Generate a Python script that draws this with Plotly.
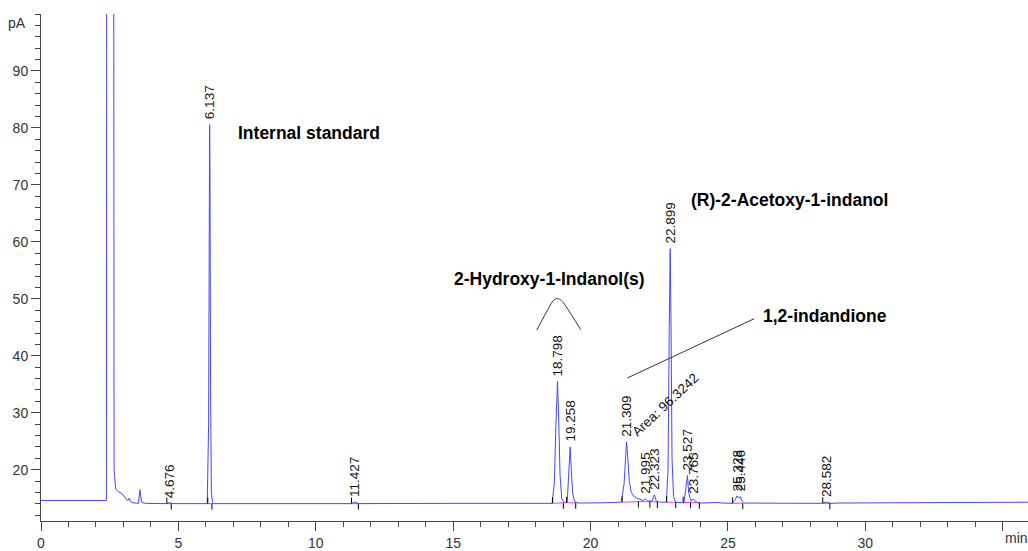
import numpy as np
import plotly.graph_objects as go

# Labelled peaks: retention time (min) and apex signal (pA)
peak_rt = [4.676, 6.137, 11.427, 18.798, 19.258, 21.309, 21.995, 22.323,
           22.899, 23.527, 23.765, 25.328, 25.446, 28.582]
peak_apex = [14.2, 80.6, 14.35, 35.5, 24.0, 24.9, 14.9, 15.6,
             58.8, 19.0, 14.8, 15.4, 15.3, 14.3]

# Remaining detector trace vertices (min, pA)
trace_time = [0.0, 2.38, 2.41, 2.62, 2.66, 2.72, 2.80, 2.95, 3.05, 3.12, 3.17, 3.21,
              3.26, 3.35, 3.55, 3.60, 3.66, 3.80, 4.55,
              4.80, 6.05, 6.10, 6.125,
              6.15, 6.17, 6.20, 6.25, 8.0, 11.30,
              11.55, 15.0, 16.0, 17.5, 18.60, 18.68, 18.74,
              18.84, 18.89, 18.95, 19.05, 19.15, 19.20,
              19.30, 19.35, 19.42, 19.55, 20.5, 21.12, 21.22, 21.27,
              21.35, 21.41, 21.48, 21.60, 21.80, 21.92,
              22.08, 22.24,
              22.40, 22.55, 22.76, 22.82, 22.865,
              22.93, 22.965, 23.02, 23.10, 23.40, 23.47,
              23.57, 23.65,
              23.85, 24.0, 24.6, 24.8, 25.15, 25.25,
              25.39,
              25.52, 25.60, 28.40,
              28.75, 29.0, 31.0, 32.5, 33.0, 35.92]
trace_pa = [14.6, 14.6, 300.0, 300.0, 20.0, 16.6, 16.2, 15.8, 15.2, 14.7, 14.6, 15.0,
            14.4, 14.2, 14.1, 16.5, 14.3, 14.1, 14.05,
            14.05, 14.05, 28.0, 70.0,
            72.0, 35.0, 16.0, 14.05, 14.05, 14.05,
            14.05, 14.1, 14.15, 14.1, 14.1, 17.5, 28.0,
            29.0, 19.0, 15.0, 14.2, 14.3, 18.0,
            20.0, 15.8, 14.4, 14.15, 14.2, 14.3, 17.5, 22.5,
            22.5, 18.0, 16.0, 15.2, 14.8, 14.6,
            14.5, 14.5,
            14.4, 14.3, 14.3, 20.0, 45.0,
            45.0, 22.0, 15.3, 14.3, 14.2, 17.0,
            16.0, 14.6,
            14.3, 14.15, 14.25, 14.15, 14.1, 14.6,
            15.0,
            14.5, 14.15, 14.1,
            14.1, 14.15, 14.2, 14.25, 14.3, 14.3]

# Integration events (min) and the baseline level (pA) where they sit
event_start = [4.58, 6.07, 11.30, 18.62, 19.13, 21.15, 22.77, 23.37, 25.17, 28.45]
event_start_pa = [14.05, 14.05, 14.05, 14.1, 14.2, 14.3, 14.3, 14.2, 14.1, 14.1]
event_end = [4.74, 6.22, 11.55, 19.01, 19.46, 21.74, 22.16, 22.43, 23.10,
             23.64, 23.96, 25.54, 28.71]
event_end_pa = [14.05, 14.05, 14.05, 14.2, 14.2, 14.4, 14.4, 14.35, 14.3,
                14.3, 14.2, 14.15, 14.1]

# Integrated baseline segments (min, pA)
baseline_from = [4.58, 6.07, 11.30, 18.62, 19.13, 21.15, 21.74, 22.16, 22.77,
                 23.37, 23.64, 25.17, 28.45]
baseline_to = [4.74, 6.22, 11.55, 19.01, 19.46, 21.74, 22.16, 22.43, 23.10,
               23.64, 23.96, 25.54, 28.71]
baseline_from_pa = [14.05, 14.05, 14.05, 14.1, 14.2, 14.3, 14.4, 14.4, 14.3,
                    14.2, 14.3, 14.1, 14.1]
baseline_to_pa = [14.05, 14.05, 14.05, 14.2, 14.2, 14.4, 14.4, 14.35, 14.3,
                  14.3, 14.2, 14.15, 14.1]

# Compound annotations
arc_time = [18.04, 18.49, 18.63, 18.79, 18.94, 19.10, 19.64]
arc_pa = [44.5, 48.5, 49.6, 50.06, 49.7, 48.7, 44.6]
leader_time = [21.34, 25.95]
leader_pa = [36.1, 46.5]

x_ticks = [0, 5, 10, 15, 20, 25, 30, 35]
x_ticktext = ["0", "5", "10", "15", "20", "25", "30", ""]
y_ticks = [20, 30, 40, 50, 60, 70, 80, 90]

pts = sorted(zip(trace_time + peak_rt, trace_pa + peak_apex))
t_all = [p[0] for p in pts]
s_all = [p[1] for p in pts]

FONT = "Arial, Liberation Sans, sans-serif"

fig = go.Figure()

# Integrated baselines
bx, by = [], []
for a, b, ya, yb in zip(baseline_from, baseline_to, baseline_from_pa, baseline_to_pa):
    bx += [a, b, None]
    by += [ya, yb, None]
fig.add_trace(go.Scatter(x=bx, y=by, mode="lines",
                         line=dict(color="#ff33cc", width=1), hoverinfo="skip"))

# Detector signal
fig.add_trace(go.Scatter(x=t_all, y=s_all, mode="lines",
                         line=dict(color="#4646ff", width=1)))

# Bracket over the two diol peaks and leader line
fig.add_trace(go.Scatter(x=arc_time, y=arc_pa, mode="lines",
                         line=dict(color="#333333", width=1, shape="spline")))
fig.add_trace(go.Scatter(x=leader_time, y=leader_pa, mode="lines",
                         line=dict(color="#333333", width=1)))

shapes = []
for t, yb in zip(event_start, event_start_pa):
    shapes.append(dict(type="line", xref="x", yref="y", x0=t, x1=t,
                       ysizemode="pixel", yanchor=yb, y0=0, y1=6,
                       line=dict(color="black", width=1)))
for t, yb in zip(event_end, event_end_pa):
    shapes.append(dict(type="line", xref="x", yref="y", x0=t, x1=t,
                       ysizemode="pixel", yanchor=yb, y0=-6, y1=0,
                       line=dict(color="black", width=1)))

annotations = []
for rt, h in zip(peak_rt, peak_apex):
    annotations.append(dict(x=rt, y=h, xref="x", yref="y", text=f"{rt:.3f}",
                            textangle=-90, showarrow=False, xanchor="center",
                            yanchor="bottom", yshift=3,
                            font=dict(family=FONT, size=13.5, color="#111111")))

bold = dict(family=FONT, size=17.5, color="black")
annotations += [
    dict(x=7.10, y=79.1, text="<b>Internal standard</b>", xanchor="left",
         yanchor="middle", showarrow=False, font=bold),
    dict(x=18.50, y=53.4, text="<b>2-Hydroxy-1-Indanol(s)</b>", xanchor="center",
         yanchor="middle", showarrow=False, font=bold),
    dict(x=23.58, y=67.4, text="<b>(R)-2-Acetoxy-1-indanol</b>", xanchor="left",
         yanchor="middle", showarrow=False, font=bold),
    dict(x=26.22, y=46.9, text="<b>1,2-indandione</b>", xanchor="left",
         yanchor="middle", showarrow=False, font=bold),
    dict(x=22.74, y=31.4, text="Area: 96.3242", textangle=-43, showarrow=False,
         xanchor="center", yanchor="middle",
         font=dict(family=FONT, size=13.5, color="#111111")),
    dict(x=-0.013, y=0.982, xref="paper", yref="paper", text="pA",
         xanchor="right", yanchor="middle", showarrow=False,
         font=dict(family=FONT, size=14, color="#333333")),
    dict(x=0.988, y=-0.0345, xref="paper", yref="paper", text="min",
         xanchor="center", yanchor="middle", showarrow=False,
         font=dict(family=FONT, size=14, color="#333333")),
]

fig.update_layout(
    width=1028, height=551,
    margin=dict(l=41, r=0, t=14, b=24),
    paper_bgcolor="white", plot_bgcolor="white",
    showlegend=False,
    shapes=shapes, annotations=annotations,
    xaxis=dict(range=[0, 35.92], tickmode="array", tickvals=x_ticks,
               ticktext=x_ticktext, showgrid=False, zeroline=False,
               showline=True, linecolor="#444444", linewidth=1,
               ticks="outside", ticklen=9, tickcolor="#444444",
               tickfont=dict(family=FONT, size=14, color="#333333"),
               minor=dict(tickmode="linear", tick0=0, dtick=1, ticks="outside",
                          ticklen=5, tickcolor="#444444")),
    yaxis=dict(range=[11.0, 100.0], tickmode="array", tickvals=y_ticks,
               showgrid=False, zeroline=False,
               showline=True, linecolor="#444444", linewidth=1,
               ticks="outside", ticklen=9, tickcolor="#444444",
               tickfont=dict(family=FONT, size=14, color="#333333"),
               minor=dict(tickmode="linear", tick0=0, dtick=2, ticks="outside",
                          ticklen=5, tickcolor="#444444")),
)

fig.write_html("out.html")
